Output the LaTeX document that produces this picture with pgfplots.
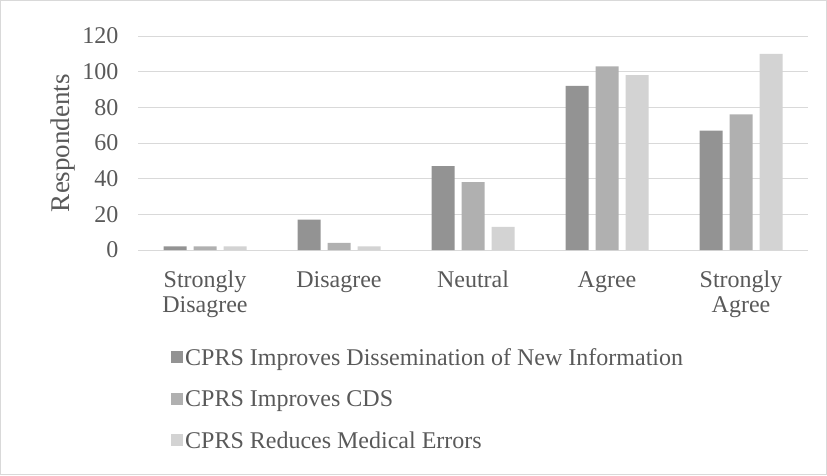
\documentclass[border=0pt]{standalone}
\usepackage{pgfplots}
\pgfplotsset{compat=1.18}
\usepackage{fontspec}
\setmainfont{Liberation Serif}
\definecolor{txt}{HTML}{595959}
\definecolor{cA}{HTML}{939393}
\definecolor{cB}{HTML}{B0B0B0}
\definecolor{cC}{HTML}{D3D3D3}
\definecolor{gridc}{HTML}{D9D9D9}
\begin{document}
\begin{tikzpicture}[x=1pt,y=1pt]
\draw[gridc, line width=1pt] (0.5,0.5) rectangle (826.5,474.5);
\begin{axis}[
  at={(138pt,225pt)}, anchor=south west,
  scale only axis, width=670pt, height=214pt,
  ybar=7pt, bar width=23pt,
  xmin=-0.5, xmax=4.5, ymin=0, ymax=120,
  xtick={0,1,2,3,4},
  xticklabels={{\strut Strongly\\Disagree},{\strut Disagree},{\strut Neutral},{\strut Agree},{\strut Strongly\\Agree}},
  ytick={0,20,40,60,80,100,120},
  ymajorgrids, grid style={gridc, line width=1pt},
  axis line style={draw=none},
  major tick length=0pt,
  /pgf/number format/assume math mode=true,
  tick label style={font=\fontsize{24}{25}\selectfont, text=txt},
  xticklabel style={align=center, anchor=north, yshift=-16pt},
  yticklabel style={xshift=-16pt},
  ylabel={Respondents},
  ylabel style={font=\fontsize{27}{28}\selectfont, text=txt, at={(axis description cs:-0.1125,0.5)}, anchor=center},
  legend style={at={(0.0492,-0.45)}, anchor=north west, draw=none, fill=none, inner sep=0pt,
    font=\fontsize{24}{25}\selectfont, text=txt, cells={anchor=west}, row sep=20pt,
    /tikz/every even column/.append style={column sep=5pt}},
  legend image code/.code={\fill[#1, draw=none] (0pt,-5pt) rectangle (12pt,7pt);},
]
\addplot[fill=cA, draw=none] coordinates {(0,2) (1,17) (2,47) (3,92) (4,67)};
\addplot[fill=cB, draw=none] coordinates {(0,2) (1,4) (2,38) (3,103) (4,76)};
\addplot[fill=cC, draw=none] coordinates {(0,2) (1,2) (2,13) (3,98) (4,110)};
\legend{CPRS Improves Dissemination of New Information, CPRS Improves CDS, CPRS Reduces Medical Errors}
\end{axis}
\end{tikzpicture}
\end{document}
